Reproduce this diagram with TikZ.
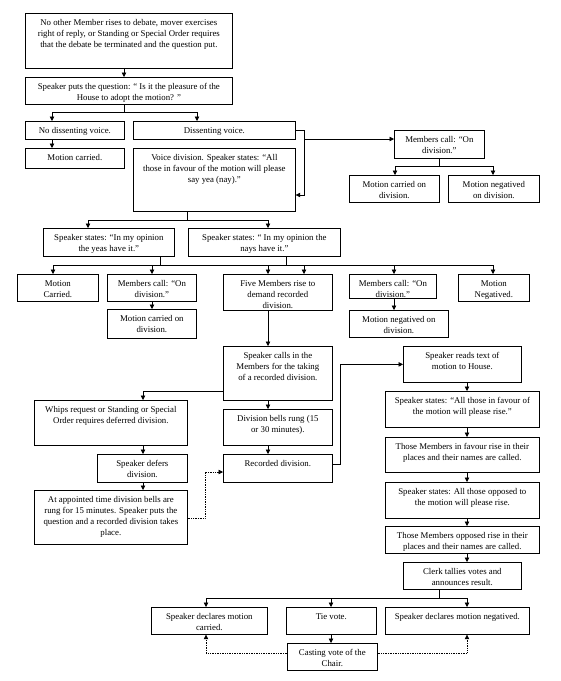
\documentclass[tikz,border=0pt]{standalone}
\usepackage{fontspec}
\setmainfont{Liberation Serif}
\usetikzlibrary{arrows.meta}
\tikzset{
  bx/.style={draw, line width=0.7pt, inner xsep=2pt, inner ysep=0pt, anchor=north west,
    font=\fontsize{8.8}{11}\selectfont},
  conn/.style={line width=0.7pt},
  arr/.style={conn, -{Triangle[length=4.5pt,width=4.5pt]}},
  dotarr/.style={arr, densely dotted},
  dotline/.style={conn, densely dotted}
}
\newcommand\bx[6]{\node[bx] (#1) at (#2,#3)
  {\parbox[c][\dimexpr #5pt-#3pt\relax][t]{\dimexpr #4pt-#2pt-4pt\relax}{\centering\rule{0pt}{12pt}#6\par}};}
\begin{document}
\begin{tikzpicture}[x=1pt,y=-1pt]
\useasboundingbox[fill=white] (0,0) rectangle (561,681);
\bx{b1}{25}{13}{232}{68}{No other Member rises to debate, mover exercises\\ right of reply, or Standing or Special Order requires\\ that the debate be terminated and the question put.}
\bx{b2}{25}{77}{232}{104}{Speaker puts the question: “ Is it the pleasure of the\\ House to adopt the motion? ”}
\bx{nodiss}{25}{121}{124}{139}{No dissenting voice.}
\bx{mcarried}{25}{148}{124}{168}{Motion carried.}
\bx{diss}{133}{121}{295}{139}{Dissenting voice.}
\bx{voice}{133}{148}{295}{211}{Voice division. Speaker states: “All\\ those in favour of the motion will please\\ say yea (nay).”}
\bx{mcall1}{394}{130}{484}{158}{Members call: “On\\ division.”}
\bx{mcdiv1}{349}{175}{439}{202}{Motion carried on\\ division.}
\bx{mndiv1}{448}{175}{539}{202}{Motion negatived\\ on division.}
\bx{yeas}{43}{228}{174}{256}{Speaker states: “In my opinion\\ the yeas have it.”}
\bx{nays}{188}{228}{340}{256}{Speaker states: “ In my opinion the\\ nays have it.”}
\bx{mcarr2}{17}{274}{98}{301}{Motion\\ Carried.}
\bx{mcall2}{107}{274}{196}{301}{Members call: “On\\ division.”}
\bx{mcdiv2}{107}{309}{196}{338}{Motion carried on\\ division.}
\bx{five}{223}{274}{332}{310}{Five Members rise to\\ demand recorded\\ division.}
\bx{mcall3}{349}{274}{436}{298}{Members call: “On\\ division.”}
\bx{mndiv3}{349}{310}{448}{337}{Motion negatived on\\ division.}
\bx{mneg}{458}{274}{529}{301}{Motion\\ Negatived.}
\bx{scalls}{223}{346}{332}{400}{Speaker calls in the\\ Members for the taking\\ of a recorded division.}
\bx{whips}{34}{400}{187}{445}{Whips request or Standing or Special\\ Order requires deferred division.}
\bx{defers}{97}{454}{187}{482}{Speaker defers\\ division.}
\bx{appointed}{34}{490}{187}{544}{At appointed time division bells are\\ rung for 15 minutes. Speaker puts the\\ question and a recorded division takes\\ place.}
\bx{bells}{223}{409}{332}{445}{Division bells rung (15\\ or 30 minutes).}
\bx{recorded}{223}{454}{332}{482}{Recorded division.}
\bx{reads}{403}{346}{521}{382}{Speaker reads text of\\ motion to House.}
\bx{fav}{385}{391}{539}{427}{Speaker states: “All those in favour of\\ the motion will please rise.”}
\bx{favrise}{385}{437}{539}{472}{Those Members in favour rise in their\\ places and their names are called.}
\bx{opp}{385}{482}{539}{518}{Speaker states: All those opposed to\\ the motion will please rise.}
\bx{opprise}{385}{526}{539}{553}{Those Members opposed rise in their\\ places and their names are called.}
\bx{clerk}{403}{562}{521}{589}{Clerk tallies votes and\\ announces result.}
\bx{dcarried}{151}{607}{267}{634}{Speaker declares motion\\ carried.}
\bx{tie}{286}{607}{376}{634}{Tie vote.}
\bx{dneg}{385}{607}{529}{634}{Speaker declares motion negatived.}
\bx{casting}{287}{643}{377}{670}{Casting vote of the\\ Chair.}
% connectors
\coordinate (j1) at (124,112);
\coordinate (j2) at (304,139);
\coordinate (j3) at (439,166);
\coordinate (j4) at (187,220);
\coordinate (j5) at (160,265);
\coordinate (j6) at (286,265);
\coordinate (j7) at (143,391);
\coordinate (j8) at (205,518);
\coordinate (j9) at (340,464);
\coordinate (j10) at (439,598);
\coordinate (j11) at (206,653);
\coordinate (j12) at (467,653);
\draw[arr] (124,0 |- b1.south) -- (124,0 |- b2.north);
\draw[conn] (124,0 |- b2.south) -- (j1);
\draw[conn] (52,0 |- j1) -- (197,0 |- j1);
\draw[arr] (52,0 |- j1) -- (52,0 |- nodiss.north);
\draw[arr] (197,0 |- j1) -- (197,0 |- diss.north);
\draw[arr] (52,0 |- nodiss.south) -- (52,0 |- mcarried.north);
\draw[arr] (diss.east) -- (304,0 |- diss.east) -- (304,195) -- (voice.east |- 0,195);
\draw[arr] (j2) -- (mcall1.west |- j2);
\draw[conn] (j3 |- mcall1.south) -- (j3);
\draw[conn] (395,0 |- j3) -- (493,0 |- j3);
\draw[arr] (395,0 |- j3) -- (395,0 |- mcdiv1.north);
\draw[arr] (493,0 |- j3) -- (493,0 |- mndiv1.north);
\draw[conn] (j4 |- voice.south) -- (j4);
\draw[conn] (88,0 |- j4) -- (268,0 |- j4);
\draw[arr] (88,0 |- j4) -- (88,0 |- yeas.north);
\draw[arr] (268,0 |- j4) -- (268,0 |- nays.north);
\draw[conn] (j5 |- yeas.south) -- (j5);
\draw[conn] (j6 |- nays.south) -- (j6);
\draw[conn] (53,0 |- j5) -- (493,0 |- j5);
\draw[arr] (53,0 |- j5) -- (53,0 |- mcarr2.north);
\draw[arr] (152,0 |- j5) -- (152,0 |- mcall2.north);
\draw[arr] (268,0 |- j5) -- (268,0 |- five.north);
\draw[arr] (304,0 |- j5) -- (304,0 |- five.north);
\draw[arr] (394,0 |- j5) -- (394,0 |- mcall3.north);
\draw[arr] (493,0 |- j5) -- (493,0 |- mneg.north);
\draw[arr] (152,0 |- mcall2.south) -- (152,0 |- mcdiv2.north);
\draw[arr] (394,0 |- mcall3.south) -- (394,0 |- mndiv3.north);
\draw[arr] (268,0 |- five.south) -- (268,0 |- scalls.north);
\draw[arr] (scalls.west |- j7) -- (j7) -- (j7 |- whips.north);
\draw[arr] (143,0 |- whips.south) -- (143,0 |- defers.north);
\draw[arr] (143,0 |- defers.south) -- (143,0 |- appointed.north);
\draw[dotarr] (appointed.east |- j8) -- (j8) -- (205,472) -- (recorded.west |- 0,472);
\draw[arr] (268,0 |- scalls.south) -- (268,0 |- bells.north);
\draw[arr] (268,0 |- bells.south) -- (268,0 |- recorded.north);
\draw[arr] (recorded.east |- j9) -- (j9) -- (j9 |- reads.west) -- (reads.west);
\draw[arr] (467,0 |- reads.south) -- (467,0 |- fav.north);
\draw[arr] (467,0 |- fav.south) -- (467,0 |- favrise.north);
\draw[arr] (467,0 |- favrise.south) -- (467,0 |- opp.north);
\draw[arr] (467,0 |- opp.south) -- (467,0 |- opprise.north);
\draw[arr] (467,0 |- opprise.south) -- (467,0 |- clerk.north);
\draw[conn] (j10 |- clerk.south) -- (j10);
\draw[conn] (206,0 |- j10) -- (467,0 |- j10);
\draw[arr] (206,0 |- j10) -- (206,0 |- dcarried.north);
\draw[arr] (331,0 |- j10) -- (331,0 |- tie.north);
\draw[arr] (467,0 |- j10) -- (467,0 |- dneg.north);
\draw[arr] (331,0 |- tie.south) -- (331,0 |- casting.north);
\draw[dotarr] (casting.west |- j11) -- (j11) -- (j11 |- dcarried.south);
\draw[dotarr] (casting.east |- j12) -- (j12) -- (j12 |- dneg.south);
\end{tikzpicture}
\end{document}
